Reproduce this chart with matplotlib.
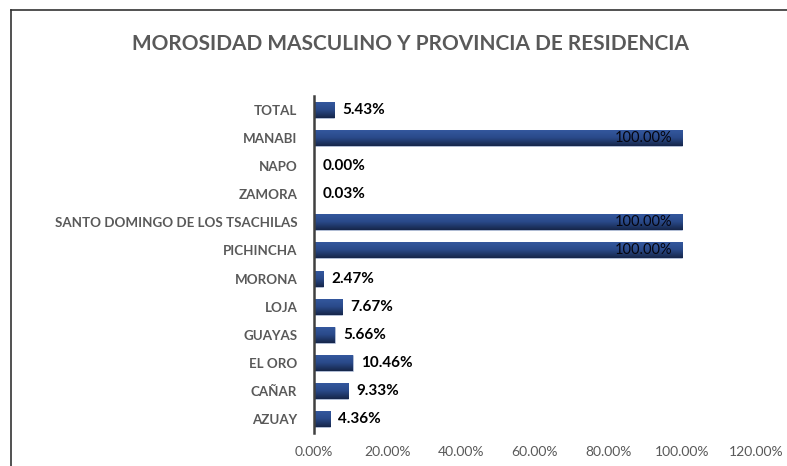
import numpy as np
import matplotlib
matplotlib.use("Agg")
import matplotlib.pyplot as plt
from matplotlib.lines import Line2D
from matplotlib.colors import LinearSegmentedColormap
from matplotlib.ticker import FuncFormatter

provincias = ['AZUAY', 'CAÑAR', 'EL ORO', 'GUAYAS', 'LOJA', 'MORONA',
              'PICHINCHA', 'SANTO DOMINGO DE LOS TSACHILAS', 'ZAMORA',
              'NAPO', 'MANABI', 'TOTAL']
morosidad = [4.36, 9.33, 10.46, 5.66, 7.67, 2.47,
             100.00, 100.00, 0.03, 0.00, 100.00, 5.43]
x_ticks = [0, 20, 40, 60, 80, 100, 120]

plt.rcParams['font.family'] = ['Lato', 'DejaVu Sans']

fig = plt.figure(figsize=(7.87, 4.66), dpi=100)
ax = fig.add_axes([314/787, 1 - 433/466, (756 - 314)/787, (433 - 96)/466])

grey = '#595959'
y = np.arange(len(provincias))
bars = ax.barh(y, morosidad, height=0.57, color='#2B4C8C', edgecolor='#c8d0e0',
               linewidth=0.4, zorder=2)

# vertical gradient inside each bar (lighter top, darker bottom)
cmap = LinearSegmentedColormap.from_list('bar', ['#16264a', '#2a4a8a', '#3559a0'])
grad = np.linspace(0, 1, 64).reshape(-1, 1)
for b in bars:
    if b.get_width() <= 0:
        continue
    x0, y0 = b.get_x(), b.get_y()
    im = ax.imshow(grad, extent=[x0, x0 + b.get_width(), y0, y0 + b.get_height()],
                   origin='lower', aspect='auto', cmap=cmap, zorder=2.5)
    im.set_clip_path(b)

for yi, v in zip(y, morosidad):
    txt = f'{v:.2f}%'
    if v >= 100:
        ax.annotate(txt, (v, yi), xytext=(-7, 0), textcoords='offset points',
                    ha='right', va='center', fontsize=10.5, color='#05050f', zorder=3)
    else:
        ax.annotate(txt, (v, yi), xytext=(6, 0), textcoords='offset points',
                    ha='left', va='center', fontsize=11, fontweight='bold',
                    color='black', zorder=3)

ax.set_xlim(0, 120)
ax.set_ylim(-0.5, len(provincias) - 0.5)
ax.set_xticks(x_ticks)
ax.xaxis.set_major_formatter(FuncFormatter(lambda v, p: f'{v:.2f}%'))
ax.set_yticks(y)
ax.set_yticklabels(provincias, fontweight='bold')
ax.tick_params(axis='x', length=0, labelsize=10, labelcolor=grey, pad=9)
ax.tick_params(axis='y', length=0, labelsize=9.6, labelcolor=grey, pad=12)
for s in ['top', 'right', 'bottom']:
    ax.spines[s].set_visible(False)
ax.spines['left'].set_color('#404040')
ax.spines['left'].set_linewidth(1.8)
ax.spines['left'].set_zorder(4)

fig.text(410/787, 1 - 44/466, 'MOROSIDAD MASCULINO Y PROVINCIA DE RESIDENCIA',
         ha='center', va='center', fontsize=15, fontweight='bold', color=grey)

# outer frame (top and left edges)
fig.add_artist(Line2D([11/787, 1], [1 - 10/466, 1 - 10/466], color='#333333', lw=1.2))
fig.add_artist(Line2D([11/787, 11/787], [0, 1 - 10/466], color='#333333', lw=1.2))

fig.savefig('out.png', dpi=100)
